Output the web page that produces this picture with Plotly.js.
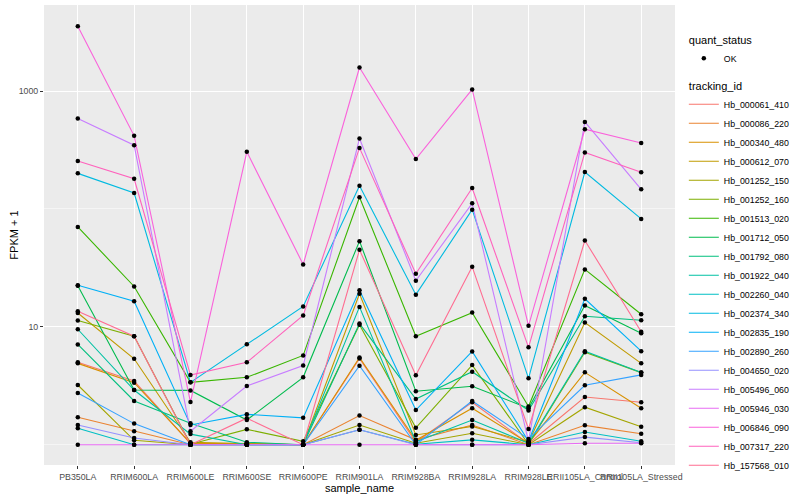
<!DOCTYPE html>
<html>
<head>
<meta charset="utf-8">
<script src="https://cdn.plot.ly/plotly-3.0.1.min.js"></script>
<style>html,body{margin:0;padding:0;background:#fff;}#chart{width:800px;height:500px;}</style>
</head>
<body>
<div id="chart"></div>
<script>
// ---- data (FPKM values) ----
const samples = ['PB350LA','RRIM600LA','RRIM600LE','RRIM600SE','RRIM600PE','RRIM901LA','RRIM928BA','RRIM928LA','RRIM928LE','RRII105LA_Control','RRII105LA_Stressed'];
const trackingIds = ['Hb_000061_410','Hb_000086_220','Hb_000340_480','Hb_000612_070','Hb_001252_150','Hb_001252_160','Hb_001513_020','Hb_001712_050','Hb_001792_080','Hb_001922_040','Hb_002260_040','Hb_002374_340','Hb_002835_190','Hb_002890_260','Hb_004650_020','Hb_005496_060','Hb_005946_030','Hb_006846_090','Hb_007317_220','Hb_157568_010'];
const quantStatus = ['OK'];

const Hb_000061_410 = [4.0, 2.47, 0.02, 0.02, 0, 4.4, 0.05, 1.29, 0.02, 1.54, 1.29];
const Hb_000086_220 = [0.71, 0.30, 0, 0.02, 0, 0.77, 0.10, 0.47, 0, 0.46, 0.24];
const Hb_000340_480 = [3.9, 2.36, 0.03, 0.01, 0, 4.5, 0.09, 1.04, 0.03, 3.11, 1.04];
const Hb_000612_070 = [12.1, 4.36, 0.05, 0.03, 0, 18.1, 0.21, 0.43, 0.05, 9.87, 3.9];
const Hb_001252_150 = [2.21, 0.09, 0, 0, 0, 0.47, 0.03, 0.25, 0, 1.08, 0.42];
const Hb_001252_160 = [10.3, 7.33, 0.01, 0.35, 0.07, 9.4, 0.39, 3.74, 0.01, 5.1, 3.09];
const Hb_001513_020 = [69.4, 21.0, 2.38, 2.73, 4.72, 124.6, 7.33, 12.2, 1.11, 29.7, 11.8];
const Hb_001712_050 = [21.3, 1.91, 1.89, 0.62, 2.73, 52.3, 1.84, 2.13, 1.04, 14.2, 7.83];
const Hb_001792_080 = [6.09, 1.35, 0.52, 0.05, 0, 9.66, 1.44, 3.16, 0.95, 11.29, 10.37];
const Hb_001922_040 = [8.54, 1.91, 0.23, 0, 0, 13.76, 0.06, 0.62, 0.03, 5.22, 3.09];
const Hb_002260_040 = [0.38, 0, 0, 0, 0, 0.34, 0.01, 0.10, 0, 0.28, 0.07];
const Hb_002374_340 = [199.4, 135.5, 2.38, 6.13, 13.9, 156.4, 17.75, 97.6, 2.66, 204.5, 81.3];
const Hb_002835_190 = [21.5, 15.5, 0.47, 0.81, 0.69, 19.4, 0.97, 5.18, 0.07, 16.3, 5.22];
const Hb_002890_260 = [1.75, 0.51, 0, 0, 0, 3.68, 0, 1.35, 0.12, 2.19, 2.91];
const Hb_004650_020 = [0.47, 0.14, 0, 0, 0, 0.34, 0, 0, 0, 0.16, 0.04];
const Hb_005496_060 = [583.5, 346.5, 0.3, 2.15, 3.7, 395, 23.6, 110.5, 0.07, 546, 145.7];
const Hb_005946_030 = [0, 0, 0, 0, 0, 0, 0, 0, 0, 0.03, 0.03];
const Hb_006846_090 = [3541, 416, 1.3, 304, 32.8, 1584, 264, 1032, 9.2, 473, 362];
const Hb_007317_220 = [253.6, 179.4, 2.9, 4.0, 11.5, 328.6, 27.2, 149.5, 5.7, 300.5, 204];
const Hb_157568_010 = [12.55, 7.33, 0, 0.68, 0, 44.0, 2.88, 31.3, 0.36, 53.0, 8.07];

const seriesValues = [Hb_000061_410, Hb_000086_220, Hb_000340_480, Hb_000612_070, Hb_001252_150, Hb_001252_160, Hb_001513_020, Hb_001712_050, Hb_001792_080, Hb_001922_040, Hb_002260_040, Hb_002374_340, Hb_002835_190, Hb_002890_260, Hb_004650_020, Hb_005496_060, Hb_005946_030, Hb_006846_090, Hb_007317_220, Hb_157568_010];

const yTickVals = [10, 1000];
const yTickText = ['10', '1000'];
const yMinorVals = [1, 100];

// ---- styles ----
const palette = ['#F8766D','#EA8331','#D89000','#C09B00','#A3A500','#7CAE00','#39B600','#00BB4E','#00BF7D','#00C1A3','#00BFC4','#00BAE0','#00B0F6','#35A2FF','#9590FF','#C77CFF','#E76BF3','#FA62DB','#FF62BC','#FF6C91'];
const FONT = 'Liberation Sans, Arial, Helvetica, sans-serif';

const traces = [];
trackingIds.forEach((id, i) => {
  traces.push({
    type: 'scatter', mode: 'lines', name: id,
    x: samples, y: seriesValues[i].map(v => v + 1),
    line: {color: palette[i], width: 1.1},
    legendgroup: 'tracking_id', legendrank: 10 + i,
    legendgrouptitle: {text: 'tracking_id', font: {size: 11, color: '#000', family: FONT}},
    hoverinfo: 'skip'
  });
});
const px = [], py = [];
seriesValues.forEach(arr => arr.forEach((v, j) => { px.push(samples[j]); py.push(v + 1); }));
traces.push({
  type: 'scatter', mode: 'markers', name: quantStatus[0],
  x: px, y: py,
  marker: {color: '#000', size: 4.5, symbol: 'circle'},
  legendgroup: 'quant_status', legendrank: 1,
  legendgrouptitle: {text: 'quant_status', font: {size: 11, color: '#000', family: FONT}},
  hoverinfo: 'skip'
});

const layout = {
  width: 800, height: 500,
  margin: {l: 44, r: 111, t: 5, b: 35},
  paper_bgcolor: '#fff', plot_bgcolor: '#EBEBEB',
  font: {family: FONT, color: '#000'},
  showlegend: true,
  legend: {
    x: 1.014, xanchor: 'left', y: 0.957, yanchor: 'top',
    font: {size: 8.8, color: '#000', family: FONT},
    traceorder: 'grouped', tracegroupgap: 8,
    itemwidth: 30,
    bgcolor: 'rgba(0,0,0,0)'
  },
  xaxis: {
    type: 'category', categoryorder: 'array', categoryarray: samples,
    range: [-0.6, 10.6],
    showgrid: true, gridcolor: '#fff', gridwidth: 1.1,
    zeroline: false, showline: false,
    ticks: 'outside', ticklen: 3, tickcolor: '#333', tickwidth: 1,
    tickangle: 0,
    tickfont: {size: 8.8, color: '#4D4D4D', family: FONT},
    title: {text: 'sample_name', font: {size: 11, color: '#000', family: FONT}, standoff: 3},
    automargin: false
  },
  yaxis: {
    type: 'log', range: [-0.172, 3.73],
    tickmode: 'array', tickvals: yTickVals, ticktext: yTickText,
    showgrid: true, gridcolor: '#fff', gridwidth: 1.1,
    minor: {tickmode: 'array', tickvals: yMinorVals, showgrid: true, gridcolor: '#fff', gridwidth: 0.5, ticks: ''},
    zeroline: false, showline: false,
    ticks: 'outside', ticklen: 3, tickcolor: '#333', tickwidth: 1,
    tickfont: {size: 8.8, color: '#4D4D4D', family: FONT},
    automargin: false
  },
  annotations: [{
    text: 'FPKM + 1', textangle: -90, showarrow: false,
    xref: 'paper', yref: 'paper', x: -(44 - 13) / 645, y: 0.5,
    xanchor: 'center', yanchor: 'middle',
    font: {size: 11, color: '#000', family: FONT}
  }]
};

Plotly.newPlot('chart', traces, layout, {staticPlot: true, displayModeBar: false});
</script>
</body>
</html>
